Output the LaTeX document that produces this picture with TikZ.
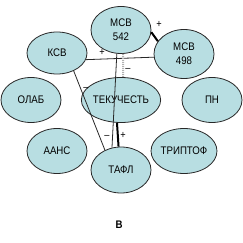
\documentclass[tikz,border=0pt]{standalone}
\usepackage{fontspec}
\setmainfont{Liberation Sans}[FakeStretch=0.88]
\usetikzlibrary{shapes.geometric}
\definecolor{nodefill}{RGB}{184,222,226}
\definecolor{edgec}{RGB}{40,40,40}
\tikzset{
  ell/.style={ellipse, draw=edgec, line width=0.8pt, fill=nodefill, minimum width=60pt, minimum height=45pt, inner sep=0pt, font=\fontsize{11}{14}\selectfont, align=center},
  thinl/.style={draw=edgec, line width=0.8pt},
  thickl/.style={draw=black, line width=2pt},
  dotl/.style={draw=gray!60, line width=2pt, dash pattern=on 1pt off 1pt},
  sgn/.style={font=\fontsize{10.5}{11}\selectfont, inner sep=0pt}
}
\begin{document}
\begin{tikzpicture}[x=1pt,y=-1pt]
\useasboundingbox (0,0) rectangle (243,243);
\node[ell, minimum height=47pt] (msv542) at (121,30) {МСВ\\542};
\node[ell, minimum height=49pt] (msv498) at (184,54) {МСВ\\498};
\node[ell, minimum height=42pt] (ksv) at (57,53) {КСВ};
\node[ell] (olab) at (31,100) {ОЛАБ};
\node[ell] (tek) at (121,100) {ТЕКУЧЕСТЬ};
\node[ell] (pn) at (212,100) {ПН};
\node[ell] (aans) at (57,151) {ААНС};
\node[ell] (tript) at (184,151) {ТРИПТОФ};
\node[ell, minimum height=46pt] (tafl) at (121,170) {ТАФЛ};
\draw[thinl] (ksv.-13) -- (msv498.186);
\draw[thickl] (msv542.-4) -- (msv498.154);
\draw[dotl] (msv542.-85) -- (tek.85);
\draw[thinl] (msv542.-100) -- (tafl.112);
\draw[thickl] (tek.-100) -- (tafl.96);
\draw[thinl] (ksv.-47) -- (tafl.129);
\node[sgn] (s1) at (102,52) {+};
\node[sgn] (s2) at (159,24) {+};
\node[sgn] (s3) at (128,70) {–};
\node[sgn] (s4) at (86,89) {–};
\node[sgn] (s5) at (107,137) {–};
\node[sgn] (s6) at (123,135) {+};
\node[font=\fontsize{11}{12}\selectfont\bfseries] (lab) at (119,225) {В};
\end{tikzpicture}
\end{document}
